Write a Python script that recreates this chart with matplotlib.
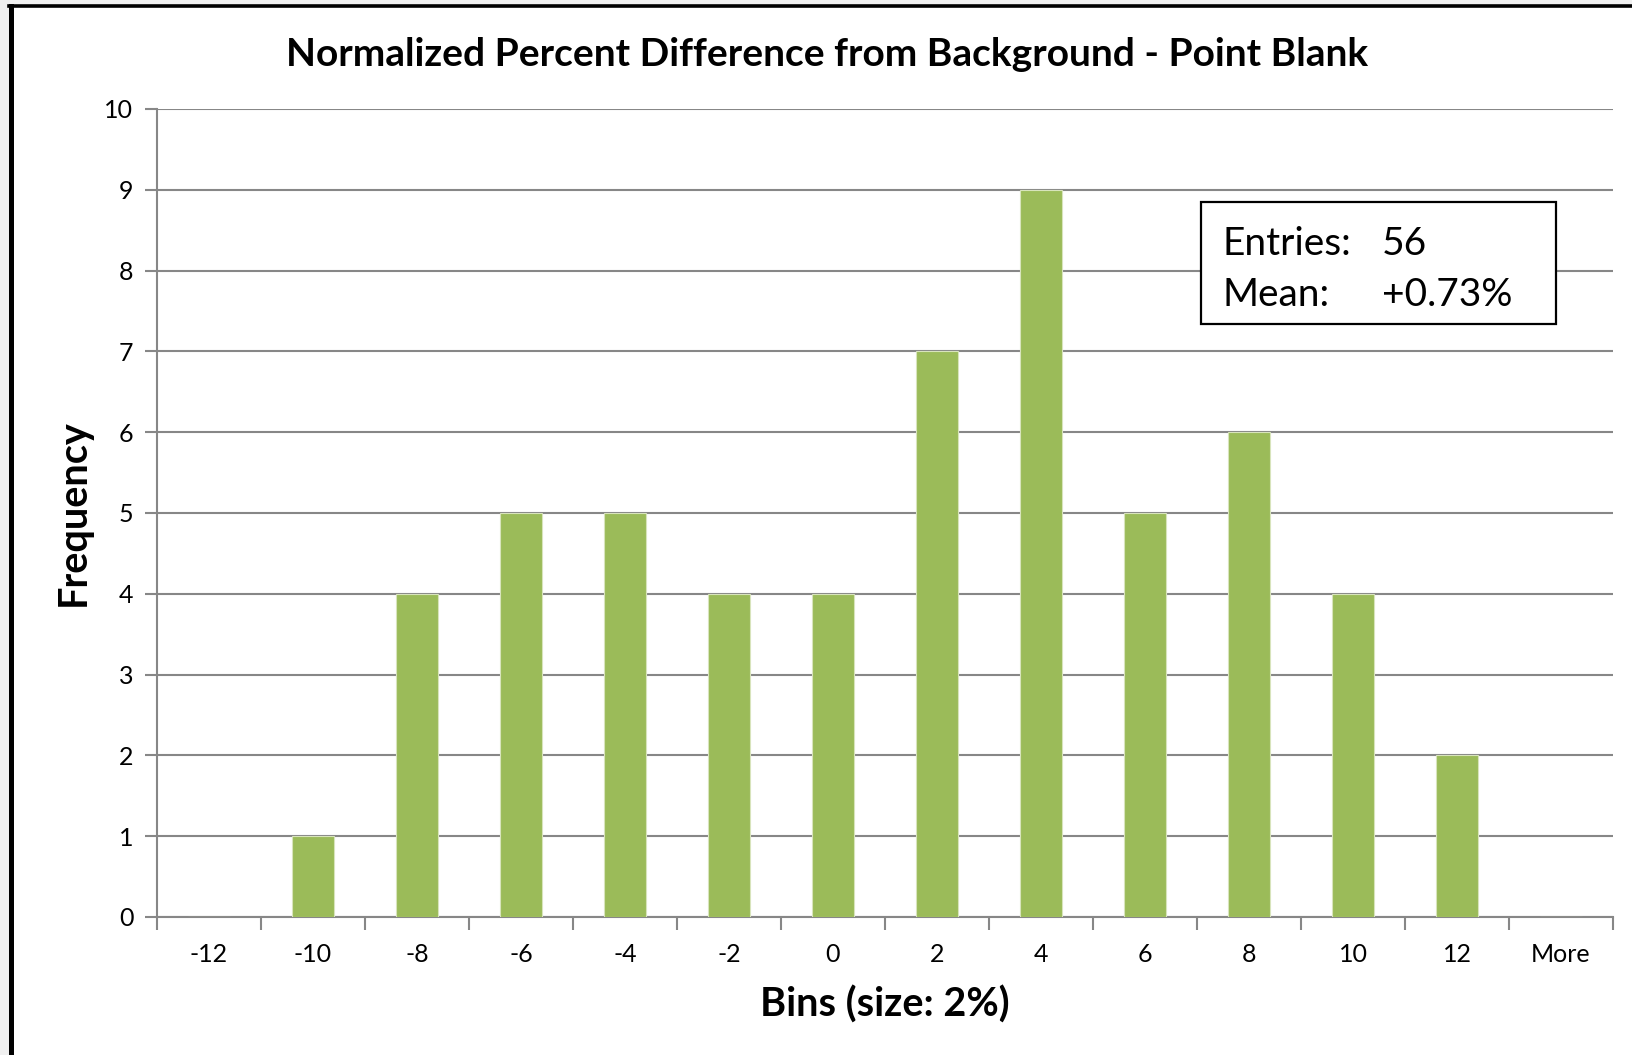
import matplotlib.pyplot as plt
from matplotlib.patches import Rectangle
from matplotlib.lines import Line2D

# Histograma de diferencias porcentuales (bins de 2%)
bins = ['-12', '-10', '-8', '-6', '-4', '-2', '0', '2', '4', '6', '8', '10', '12', 'More']
frecuencia = [0, 1, 4, 5, 5, 4, 4, 7, 9, 5, 6, 4, 2, 0]
entradas = 56
media = '+0.73%'

plt.rcParams['font.family'] = ['Lato', 'DejaVu Sans']

verde = '#9BBB59'
gris = '#878787'

fig = plt.figure(figsize=(16.32, 10.55), dpi=100, facecolor='#f0f0f0')

# Fondo blanco con el borde negro a la izquierda y arriba
fig.patches.append(Rectangle((13 / 1632, 0), 1, 1 - 7 / 1055, transform=fig.transFigure,
                             facecolor='white', edgecolor='none', zorder=-2))
fig.lines.append(Line2D([10.5 / 1632, 10.5 / 1632], [0, 1 - 5.5 / 1055], transform=fig.transFigure,
                        color='black', linewidth=3.6, zorder=-1))
fig.lines.append(Line2D([9 / 1632, 1], [1 - 5.5 / 1055, 1 - 5.5 / 1055], transform=fig.transFigure,
                        color='black', linewidth=2.6, zorder=-1))

ax = fig.add_axes([157 / 1632, 1 - 917 / 1055, (1613 - 157) / 1632, (917 - 109) / 1055])
ax.set_facecolor('white')

x = list(range(len(bins)))
ax.bar(x, frecuencia, width=0.4, color=verde, edgecolor='#d8e4bc', linewidth=0.8, zorder=3)

ax.set_xlim(-0.5, len(bins) - 0.5)
ax.set_ylim(0, 10)
ax.set_yticks(range(0, 11))
ax.yaxis.grid(True, color=gris, linewidth=1.5, zorder=0)
ax.set_axisbelow(True)

# Marcas del eje x en los limites de cada bin, etiquetas centradas
ax.set_xticks([i - 0.5 for i in range(len(bins) + 1)])
ax.set_xticklabels([])
ax.set_xticks(x, minor=True)
ax.set_xticklabels(bins, minor=True)
ax.tick_params(axis='x', which='major', direction='out', length=9, width=1.5, color=gris)
ax.tick_params(axis='x', which='minor', length=0, pad=19, labelsize=18)
ax.tick_params(axis='y', direction='out', length=9, width=1.5, color=gris, pad=8, labelsize=18)

for lado in ['top', 'right']:
    ax.spines[lado].set_visible(False)
for lado in ['left', 'bottom']:
    ax.spines[lado].set_color(gris)
    ax.spines[lado].set_linewidth(1.5)

fig.text(827 / 1632, 1 - 54 / 1055, 'Normalized Percent Difference from Background - Point Blank',
         ha='center', va='center', fontsize=28, fontweight='bold')
fig.text(885 / 1632, 1 - 1005 / 1055, 'Bins (size: 2%)', ha='center', va='center',
         fontsize=28.5, fontweight='bold')
fig.text(73 / 1632, 1 - 513 / 1055, 'Frequency', ha='center', va='center', rotation=90,
         fontsize=28.5, fontweight='bold')

# Cuadro con estadisticas
caja = Rectangle((1201 / 1632, 1 - 324 / 1055), (1556 - 1201) / 1632, (324 - 202) / 1055,
                 transform=fig.transFigure, facecolor='white', edgecolor='black', linewidth=1.6, zorder=5)
fig.patches.append(caja)
fig.text(1222 / 1632, 1 - 244 / 1055, 'Entries:', ha='left', va='center', fontsize=28, zorder=6)
fig.text(1382 / 1632, 1 - 244 / 1055, str(entradas), ha='left', va='center', fontsize=28, zorder=6)
fig.text(1222 / 1632, 1 - 295 / 1055, 'Mean:', ha='left', va='center', fontsize=28, zorder=6)
fig.text(1382 / 1632, 1 - 295 / 1055, media, ha='left', va='center', fontsize=28, zorder=6)

plt.savefig('out.png', dpi=100, facecolor=fig.get_facecolor())
